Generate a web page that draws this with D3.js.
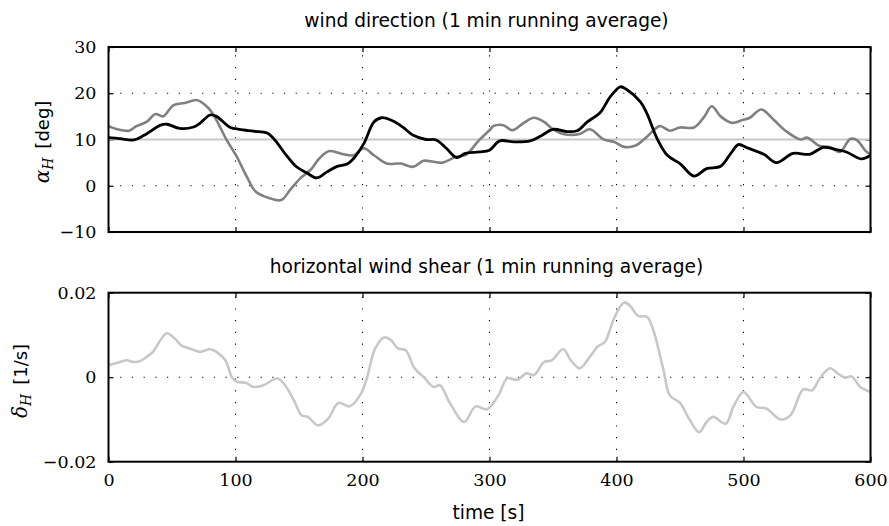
<!DOCTYPE html>
<html><head><meta charset="utf-8">
<script src="https://cdn.jsdelivr.net/npm/d3@7"></script>
<style>body{margin:0;background:#fff}svg{display:block}</style>
</head><body>
<svg id="c" width="889" height="526"></svg>
<script>
// ---- data ----
const xTicks = [0, 100, 200, 300, 400, 500, 600];
const alphaTicks = [-10, 0, 10, 20, 30];
const alphaTickLabels = ["\u221210", "0", "10", "20", "30"];
const deltaTicks = [-0.02, 0, 0.02];
const deltaTickLabels = ["\u22120.02", "0", "0.02"];
const alphaRef = 10;

const blackT = [0,9,20,28,41,46,56,67,72,80,85,96,103,114,125,130,140,148,156,164,172,180,188,193,201,209,215,224,232,240,250,258,266,274,281,292,300,308,319,332,340,350,361,369,377,387,395,403,408,419,424,432,440,450,461,471,482,490,496,503,516,526,539,552,563,573,581,593,600];
const blackV = [10.4,10.2,9.9,10.9,13.1,13.3,12.4,12.7,13.5,15.3,15.0,12.6,12.2,11.8,11.4,10.2,6.6,4.1,2.8,1.7,3.0,4.2,4.7,5.9,9.1,13.8,14.7,14.0,12.6,10.9,10.0,9.9,8.1,6.1,7.0,7.3,7.7,9.7,9.5,9.7,10.7,12.2,11.7,11.9,13.8,15.8,19.2,21.4,20.8,18.1,15.6,10.2,6.6,4.8,2.1,3.7,4.2,7.0,8.9,8.2,6.8,5.0,7.0,6.8,8.3,7.8,7.3,5.8,6.6];

const grayT = [0,7,16,22,30,37,43,51,60,70,79,85,93,101,109,116,127,136,143,151,159,166,174,185,193,201,209,219,230,240,248,256,263,274,281,292,300,303,311,318,327,335,343,349,358,371,379,390,398,406,415,424,434,442,450,461,469,475,482,491,499,505,514,524,533,545,550,560,568,576,584,589,597,600];
const grayV = [12.9,12.2,11.9,12.9,13.8,15.5,15.0,17.4,17.9,18.5,16.7,14.2,9.9,6.3,1.9,-1.3,-2.7,-3.1,-0.9,1.6,3.4,5.9,7.5,6.8,6.6,8.1,6.6,4.8,4.8,4.1,5.4,5.2,5.0,6.3,6.6,9.9,12.0,12.9,13.1,12.0,13.6,14.7,13.8,12.4,11.2,11.2,12.2,10.0,9.5,8.4,8.7,10.6,12.9,11.9,12.6,12.6,14.9,17.2,15.0,13.6,14.2,14.7,16.5,14.2,11.9,10.0,10.4,8.6,8.4,7.3,10.1,9.9,7.3,7.0];

const shearT = [0,7,14,20,25,30,35,41,46,52,58,64,72,80,85,92,97,101,108,114,122,133,139,146,152,157,165,173,181,190,198,203,210,217,222,228,234,241,248,256,261,269,280,289,298,307,314,322,329,335,343,349,358,364,371,379,385,391,398,406,411,417,424,429,437,442,450,457,465,471,476,486,492,500,510,518,529,537,547,554,560,568,575,580,585,592,600];
const shearV = [0.0028,0.0034,0.0040,0.0036,0.0038,0.0048,0.0060,0.0088,0.0104,0.0092,0.0074,0.0068,0.0060,0.0066,0.0060,0.0040,0.0001,-0.0011,-0.0013,-0.0023,-0.0019,-0.0003,-0.0019,-0.0055,-0.0090,-0.0094,-0.0114,-0.0098,-0.0061,-0.0069,-0.0043,-0.0007,0.0068,0.0094,0.0089,0.0068,0.0064,0.0021,0.0001,-0.0023,-0.0019,-0.0062,-0.0106,-0.0069,-0.0076,-0.0043,-0.0003,-0.0006,0.0009,0.0005,0.0036,0.0040,0.0066,0.0040,0.0021,0.0048,0.0072,0.0084,0.0139,0.0177,0.0168,0.0145,0.0143,0.0111,0.0017,-0.0043,-0.0061,-0.0098,-0.0130,-0.0106,-0.0094,-0.0110,-0.0070,-0.0035,-0.0070,-0.0074,-0.0100,-0.0090,-0.0029,-0.0031,-0.0003,0.0021,0.0007,-0.0001,0.0002,-0.0023,-0.0035];

// ---- layout ----
const svg = d3.select("#c");
const L = 108.5, R = 870.5;
const x = d3.scaleLinear().domain([0, 600]).range([L, R]);
const yA = d3.scaleLinear().domain([-10, 30]).range([232, 47]);
const yD = d3.scaleLinear().domain([-0.02, 0.02]).range([461.7, 292.7]);

const serif = "'DejaVu Serif', serif";
const sans = "'DejaVu Sans', sans-serif";

function panel(y, yt, ylabels, showX, id) {
  const g = svg.append("g");
  const [b, t] = y.range();
  g.append("clipPath").attr("id", id).append("rect")
    .attr("x", L).attr("y", t).attr("width", R - L).attr("height", b - t);
  // grid
  const grid = g.append("g").attr("stroke", "#000").attr("stroke-width", 1.1)
    .attr("stroke-dasharray", "1.2,10.5");
  xTicks.slice(1, -1).forEach(v => grid.append("line")
    .attr("x1", x(v)).attr("x2", x(v)).attr("y1", b).attr("y2", t));
  yt.slice(1, -1).forEach(v => grid.append("line")
    .attr("x1", L).attr("x2", R).attr("y1", y(v)).attr("y2", y(v)));
  // axes with inward ticks
  g.append("g").attr("transform", `translate(0,${b})`)
    .call(d3.axisBottom(x).tickValues(xTicks).tickSizeInner(-5).tickSizeOuter(0).tickPadding(12)
      .tickFormat(showX ? d3.format("d") : () => ""));
  g.append("g").attr("transform", `translate(0,${t})`)
    .call(d3.axisTop(x).tickValues(xTicks).tickSizeInner(-5).tickSizeOuter(0).tickFormat(() => ""));
  g.append("g").attr("transform", `translate(${L},0)`)
    .call(d3.axisLeft(y).tickValues(yt).tickSizeInner(-5).tickSizeOuter(0).tickPadding(12)
      .tickFormat((d, i) => ylabels[i]));
  g.append("g").attr("transform", `translate(${R},0)`)
    .call(d3.axisRight(y).tickValues(yt).tickSizeInner(-5).tickSizeOuter(0).tickFormat(() => ""));
  g.selectAll(".domain").remove();
  g.selectAll(".tick line").attr("stroke-width", 1.2);
  g.selectAll(".tick text").attr("font-family", serif).attr("font-size", 17.5).attr("fill", "#000");
  return g;
}

panel(yA, alphaTicks, alphaTickLabels, false, "clipA");
panel(yD, deltaTicks, deltaTickLabels, true, "clipD");

// lines
const lineA = d3.line().x(d => x(d[0])).y(d => yA(d[1])).curve(d3.curveCatmullRom);
const lineD = d3.line().x(d => x(d[0])).y(d => yD(d[1])).curve(d3.curveCatmullRom);
const pA = svg.append("g").attr("clip-path", "url(#clipA)");
pA.append("line").attr("x1", x(0)).attr("x2", x(600)).attr("y1", yA(alphaRef)).attr("y2", yA(alphaRef))
  .attr("stroke", "#c8c8c8").attr("stroke-width", 2.2);
pA.append("path").datum(grayT.map((t, i) => [t, grayV[i]])).attr("d", lineA)
  .attr("fill", "none").attr("stroke", "#808080").attr("stroke-width", 2.6).attr("stroke-linejoin", "round");
pA.append("path").datum(blackT.map((t, i) => [t, blackV[i]])).attr("d", lineA)
  .attr("fill", "none").attr("stroke", "#000").attr("stroke-width", 2.8).attr("stroke-linejoin", "round");
const pD = svg.append("g").attr("clip-path", "url(#clipD)");
pD.append("path").datum(shearT.map((t, i) => [t, shearV[i]])).attr("d", lineD)
  .attr("fill", "none").attr("stroke", "#c8c8c8").attr("stroke-width", 2.6).attr("stroke-linejoin", "round");
// frames on top
[yA, yD].forEach(y => {
  const [b, t] = y.range();
  svg.append("rect").attr("x", L).attr("y", t).attr("width", R - L).attr("height", b - t)
    .attr("fill", "none").attr("stroke", "#000").attr("stroke-width", 2);
});

// titles
svg.append("text").attr("x", (L + R) / 2 - 3).attr("y", 27).attr("text-anchor", "middle")
  .attr("font-family", sans).attr("font-size", 18.6).text("wind direction (1 min running average)");
svg.append("text").attr("x", (L + R) / 2 - 3).attr("y", 273).attr("text-anchor", "middle")
  .attr("font-family", sans).attr("font-size", 18.6).text("horizontal wind shear (1 min running average)");
svg.append("text").attr("x", (L + R) / 2 - 1).attr("y", 519).attr("text-anchor", "middle")
  .attr("font-family", sans).attr("font-size", 18.6).text("time [s]");

// y labels
function ylab(cx, cy, sym, unit) {
  const t = svg.append("text").attr("transform", `translate(${cx},${cy}) rotate(-90)`)
    .attr("text-anchor", "middle").attr("font-size", 20);
  t.append("tspan").attr("font-family", serif).attr("font-style", "italic").text(sym);
  t.append("tspan").attr("font-family", serif).attr("font-style", "italic").attr("font-size", 14).attr("dy", 4).text("H");
  t.append("tspan").attr("font-family", sans).attr("dy", -4).attr("font-size", 18).text("\u2002[" + unit + "]");
}
ylab(49, 142, "\u03b1", "deg");
ylab(27, 381, "\u03b4", "1/s");
</script>
</body></html>
